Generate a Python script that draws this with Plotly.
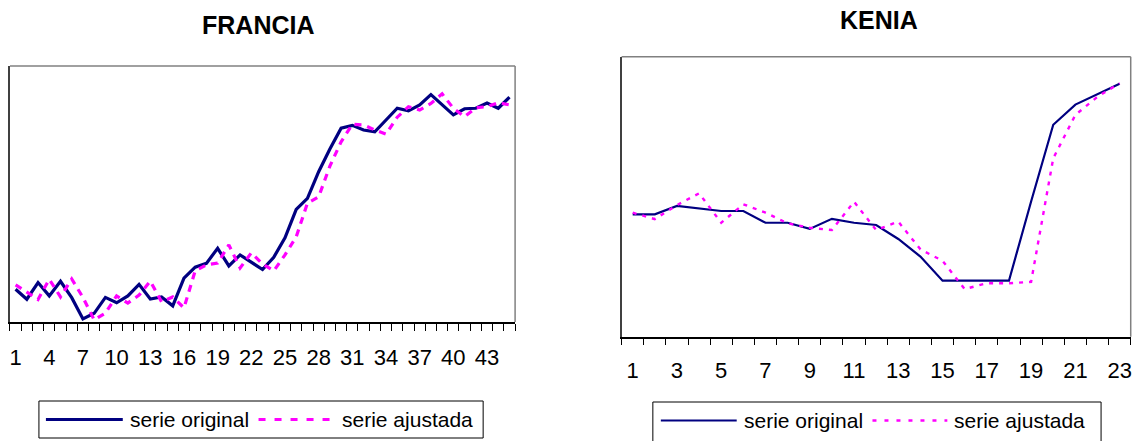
import plotly.graph_objects as go

# ---------------- DATA ----------------
francia_x = list(range(1, 46))
francia_original = [12.8, 8.9, 15.4, 10.2, 15.9, 9.5, 1.2, 3.4, 9.6, 7.5,
                    10.2, 14.7, 9.0, 9.8, 6.3, 17.1, 21.4, 22.9, 28.8, 21.9,
                    26.2, 23.3, 20.5, 25.3, 32.9, 44.0, 48.3, 58.7, 67.6, 75.7,
                    76.8, 75.0, 74.3, 78.9, 83.5, 82.5, 84.8, 88.8, 85.0, 80.9,
                    83.3, 83.5, 85.5, 83.5, 87.8]
francia_ajustada = [14.5, 11.8, 8.8, 16.7, 9.8, 16.8, 9.6, 0.8, 3.5, 10.2,
                    7.4, 10.5, 16.0, 7.9, 9.8, 5.5, 20.0, 22.3, 23.0, 30.1,
                    21.1, 27.0, 22.7, 20.0, 26.2, 33.3, 46.4, 48.9, 60.9, 70.4,
                    77.2, 77.0, 75.0, 73.4, 80.0, 84.1, 82.8, 85.4, 89.1, 83.5,
                    80.2, 83.7, 84.1, 85.7, 84.8]
francia_ticks = list(range(1, 46, 3))

kenia_x = list(range(1, 24))
kenia_original = [43.7, 43.7, 46.7, 45.7, 44.9, 44.9, 40.7, 40.7, 38.5, 42.1,
                  40.7, 39.9, 34.9, 28.6, 20.0, 20.0, 20.0, 20.0, 48.3, 75.7,
                  82.9, 86.7, 90.3]
kenia_ajustada = [44.3, 42.0, 47.0, 51.2, 40.7, 47.3, 44.3, 40.5, 38.9, 38.1,
                  48.2, 38.1, 41.1, 31.2, 27.1, 17.0, 19.1, 19.1, 19.6, 63.7,
                  79.2, 85.7, 90.5]
kenia_ticks = list(range(1, 24, 2))

titles = ["FRANCIA", "KENIA"]
series_names = ["serie original", "serie ajustada"]

NAVY = "#000080"
MAGENTA = "#FF00FF"
FONT = "Arial, Liberation Sans, sans-serif"
W, H = 1138, 441

fig = go.Figure()

fig.add_trace(go.Scatter(x=francia_x, y=francia_original, mode="lines",
                         line=dict(color=NAVY, width=3.2), xaxis="x", yaxis="y",
                         showlegend=False))
fig.add_trace(go.Scatter(x=francia_x, y=francia_ajustada, mode="lines",
                         line=dict(color=MAGENTA, width=3.2, dash="7px,6px"),
                         xaxis="x", yaxis="y", showlegend=False))
fig.add_trace(go.Scatter(x=kenia_x, y=kenia_original, mode="lines",
                         line=dict(color=NAVY, width=2.2), xaxis="x2", yaxis="y2",
                         showlegend=False))
fig.add_trace(go.Scatter(x=kenia_x, y=kenia_ajustada, mode="lines",
                         line=dict(color=MAGENTA, width=2.4, dash="4px,6px"),
                         xaxis="x2", yaxis="y2", showlegend=False))

# plot-area geometry (pixels)
L1 = (9, 515, 66, 322)
L2 = (621.7, 1131.7, 56.7, 336.7)

def dom(a, b, total):
    return [a / total, b / total]

def xax(n, ticks, box, standoff):
    return dict(domain=dom(box[0], box[1], W), range=[0.5, n + 0.5],
                tickmode="array", tickvals=ticks, ticktext=[str(t) for t in ticks],
                ticks="", showgrid=False, zeroline=False, showline=True,
                linecolor="black", linewidth=1.5, ticklabelstandoff=standoff,
                tickfont=dict(family=FONT, size=22, color="black"),
                minor=dict(tickmode="linear", tick0=0.5, dtick=1, ticks="outside",
                           ticklen=7, tickcolor="black", tickwidth=1, showgrid=False),
                fixedrange=True)

def yax(box, anchor):
    return dict(domain=[(H - box[3]) / H, (H - box[2]) / H], range=[0, 100],
                showticklabels=False, ticks="", showgrid=False, zeroline=False,
                showline=True, linecolor="#404040", linewidth=1.5, anchor=anchor,
                fixedrange=True)

fig.update_layout(
    width=W, height=H, margin=dict(l=0, r=0, t=0, b=0, pad=0),
    paper_bgcolor="white", plot_bgcolor="white", showlegend=False,
    xaxis=dict(xax(len(francia_x), francia_ticks, L1, 15), anchor="y"),
    yaxis=yax(L1, "x"),
    xaxis2=dict(xax(len(kenia_x), kenia_ticks, L2, 13), anchor="y2"),
    yaxis2=yax(L2, "x2"),
)

shapes = []
annotations = []
# top/right borders of plot areas
for xr, yr in (("x", "y"), ("x2", "y2")):
    shapes.append(dict(type="line", xref=xr + " domain", yref=yr + " domain",
                       x0=0, x1=1, y0=1, y1=1, line=dict(color="#808080", width=1.5),
                       layer="below"))
    shapes.append(dict(type="line", xref=xr + " domain", yref=yr + " domain",
                       x0=1, x1=1, y0=0, y1=1, line=dict(color="#808080", width=1.5),
                       layer="below"))

# titles
for title, cx, cy in ((titles[0], 258, 25), (titles[1], 880, 20)):
    annotations.append(dict(text="<b>%s</b>" % title, xref="paper", yref="paper",
                             x=cx / W, y=1 - cy / H, xanchor="center", yanchor="middle",
                             showarrow=False, font=dict(family=FONT, size=25, color="black")))

# legends (manual boxes)
legends = [
    dict(box=(38, 483, 401, 438), cy=419.5,
         items=[(45, 122, 127, NAVY, 3.2, "solid"), (258, 335, 340, MAGENTA, 3.2, "7px,9px")]),
    dict(box=(653, 1102, 402, 442), cy=420.5,
         items=[(661, 737, 742, NAVY, 2.2, "solid"), (873, 948, 953, MAGENTA, 2.4, "4px,8px")]),
]
for lg in legends:
    x0, x1, y0, y1 = lg["box"]
    shapes.append(dict(type="rect", xref="paper", yref="paper",
                       x0=x0 / W, x1=x1 / W, y0=1 - y1 / H, y1=1 - y0 / H,
                       line=dict(color="black", width=1), fillcolor="white"))
    for (sx0, sx1, tx, col, lw, dash), name in zip(lg["items"], series_names):
        shapes.append(dict(type="line", xref="paper", yref="paper",
                           x0=sx0 / W, x1=sx1 / W, y0=1 - lg["cy"] / H, y1=1 - lg["cy"] / H,
                           line=dict(color=col, width=lw, dash=dash)))
        annotations.append(dict(text=name, xref="paper", yref="paper",
                                x=tx / W, y=1 - lg["cy"] / H, xanchor="left", yanchor="middle",
                                showarrow=False, font=dict(family=FONT, size=21, color="black")))

fig.update_layout(shapes=shapes, annotations=annotations)
fig.write_html("out.html", config={"displayModeBar": False},
               post_script="document.body.style.margin='0';document.body.style.overflow='hidden';")
